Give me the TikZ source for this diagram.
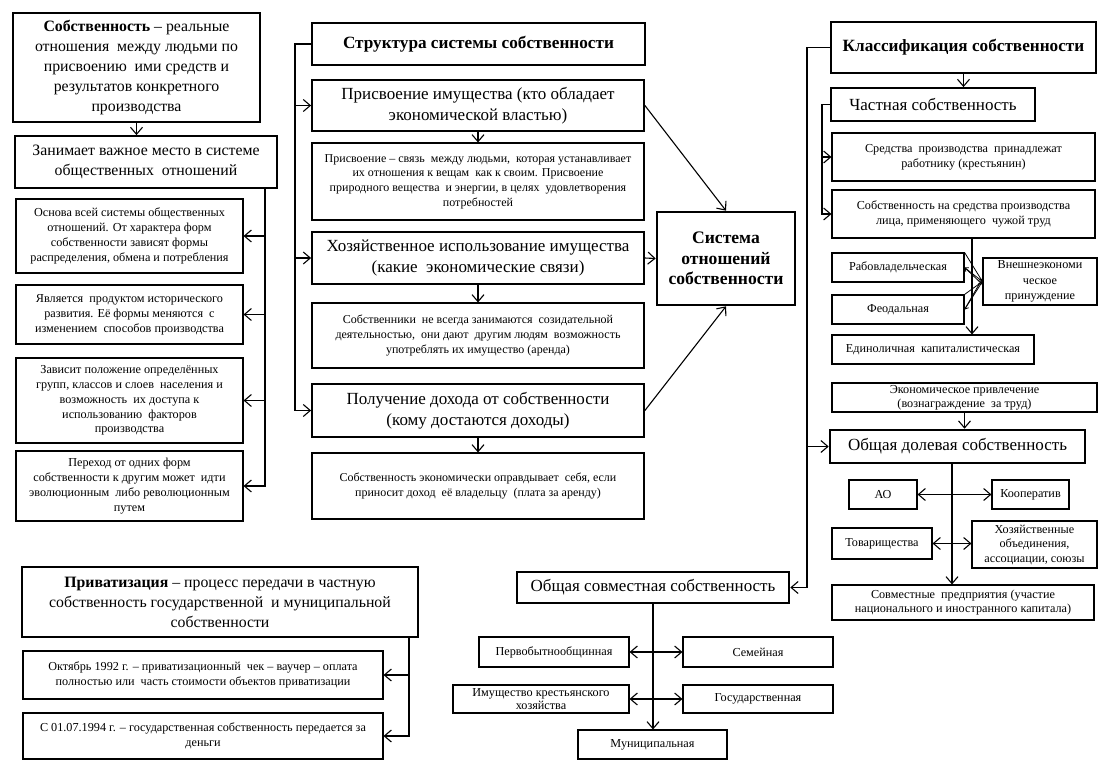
\documentclass[tikz,border=0pt]{standalone}
\usepackage{fontspec}
\setmainfont{Liberation Serif}
\usetikzlibrary{arrows.meta}
\begin{document}
\begin{tikzpicture}[x=1pt,y=-1pt]
\tikzset{
 base/.style={draw, align=center, inner sep=1pt, text=black},
 bthick/.style={base, line width=2.6pt},
 bmed/.style={base, line width=1.8pt},
 bthin/.style={base, line width=1.1pt},
 fbig/.style={font=\fontsize{17}{21}\selectfont},
 fmid/.style={font=\fontsize{15.8}{20}\selectfont},
 fsm/.style={font=\fontsize{12.2}{14.8}\selectfont},
 fxs/.style={font=\fontsize{12}{14.6}\selectfont},
 ftitle/.style={font=\fontsize{17.2}{20.5}\selectfont\bfseries},
 conn/.style={line width=1.1pt},
 arr/.style={conn, -{Straight Barb[length=7pt,width=12pt]}},
 darr/.style={conn, {Straight Barb[length=7pt,width=12pt]}-{Straight Barb[length=7pt,width=12pt]}},
 sarr/.style={line width=0.8pt, -{Straight Barb[length=3pt,width=5pt]}},
 sline/.style={line width=0.8pt},
}
\fill[white] (0,0) rectangle (1101,772);
\useasboundingbox (0,0) rectangle (1101,772);

% ---------- left column ----------
\node[bthick, fmid, minimum width=247pt, minimum height=109pt] (A) at (136.5,67.5)
 {\textbf{Собственность} – реальные\\ отношения\ \ между людьми по\\ присвоению\ \ ими средств и\\ результатов конкретного\\ производства};
\node[bmed, fmid, minimum width=262pt, minimum height=52pt] (B) at (146,162)
 {Занимает важное место в системе\\ общественных\ \ отношений};
\node[bthin, fsm, minimum width=227pt, minimum height=74pt] (C1) at (129.5,236)
 {Основа всей системы общественных\\ отношений. От характера форм\\ собственности зависят формы\\ распределения, обмена и потребления};
\node[bthin, fsm, minimum width=227pt, minimum height=59pt] (C2) at (129.5,314.5)
 {Является\ \ продуктом исторического\\ развития. Её формы меняются\ \ с\\ изменением\ \ способов производства};
\node[bthin, fsm, minimum width=227pt, minimum height=85pt] (C3) at (129.5,400.5)
 {Зависит положение определённых\\ групп, классов и слоев\ \ населения и\\ возможность\ \ их доступа к\\ использованию\ \ факторов\\ производства};
\node[bthin, fsm, minimum width=227pt, minimum height=70pt] (C4) at (129.5,486)
 {Переход от одних форм\\ собственности к другим может\ \ идти\\ эволюционным\ \ либо революционным\\ путем};

\draw[arr] (A.south) -- (A.south |- B.north);
\coordinate (lx) at (265,188);
\draw[arr] (lx) |- (C4.east);
\foreach \n in {C1,C2,C3} \draw[arr] (lx |- \n.east) -- (\n.east);

% ---------- middle column ----------
\node[bthick, ftitle, minimum width=333pt, minimum height=42pt] (S) at (478.5,44)
 {Структура системы собственности};
\node[bmed, fbig, minimum width=332pt, minimum height=51pt] (P1) at (478,105.5)
 {Присвоение имущества (кто обладает\\ экономической властью)};
\node[bthin, fxs, minimum width=332pt, minimum height=77pt] (P1d) at (478,181.5)
 {Присвоение – связь\ \ между людьми,\ \ которая устанавливает\\ их отношения к вещам\ \ как к своим. Присвоение\\ природного вещества\ \ и энергии, в целях\ \ удовлетворения\\ потребностей};
\node[bmed, fbig, minimum width=332pt, minimum height=52pt] (P2) at (478,258)
 {Хозяйственное использование имущества\\ (какие\ \ экономические связи)};
\node[bthin, fxs, minimum width=332pt, minimum height=65pt] (P2d) at (478,335.5)
 {Собственники\ \ не всегда занимаются\ \ созидательной\\ деятельностью,\ \ они дают\ \ другим людям\ \ возможность\\ употреблять их имущество (аренда)};
\node[bmed, fbig, minimum width=332pt, minimum height=53pt] (P3) at (478,410.5)
 {Получение дохода от собственности\\ (кому достаются доходы)};
\node[bthin, fxs, minimum width=332pt, minimum height=66pt] (P3d) at (478,486)
 {Собственность экономически оправдывает\ \ себя, если\\ приносит доход\ \ её владельцу\ \ (плата за аренду)};
\node[bthick, font=\fontsize{17.6}{20.5}\selectfont\bfseries, minimum width=138pt, minimum height=93pt] (Sys) at (726,258.5)
 {Система\\ отношений\\ собственности};

\coordinate (mx) at (295,44);
\draw[arr] (S.west) -- (mx) |- (P3.west);
\draw[arr] (mx |- P1.west) -- (P1.west);
\draw[arr] (mx |- P2.west) -- (P2.west);
\draw[arr] (P1.south) -- (P1d.north);
\draw[arr] (P2.south) -- (P2d.north);
\draw[arr] (P3.south) -- (P3d.north);
\draw[arr] (P1.east) -- (Sys.north);
\draw[arr] (P2.east) -- (Sys.west);
\draw[arr] (P3.east) -- (Sys.south);

% ---------- right column ----------
\node[bthick, ftitle, minimum width=265pt, minimum height=51pt] (K) at (963.5,47.5)
 {Классификация собственности};
\node[bmed, fbig, minimum width=204pt, minimum height=33pt] (Ch) at (933,104.5)
 {Частная собственность};
\node[bthin, fsm, minimum width=263pt, minimum height=48pt] (Ch1) at (963.5,157)
 {Средства\ \ производства\ \ принадлежат\\ работнику (крестьянин)};
\node[bthin, fsm, minimum width=263pt, minimum height=48pt] (Ch2) at (963.5,214)
 {Собственность на средства производства\\ лица, применяющего\ \ чужой труд};
\node[bthin, fsm, minimum width=132pt, minimum height=29pt] (Rab) at (898,267.5) {Рабовладельческая};
\node[bthin, fsm, minimum width=132pt, minimum height=29pt] (Feo) at (898,309.5) {Феодальная};
\node[bthin, font=\fontsize{12.2}{15.5}\selectfont, minimum width=114pt, minimum height=47pt] (Vne) at (1040,281.5)
 {Внешнеэкономи\\ ческое\\ принуждение};
\node[bthin, fsm, minimum width=202pt, minimum height=29pt] (Edi) at (933,349.5) {Единоличная\ \ капиталистическая};
\node[bthin, font=\fontsize{12.2}{14}\selectfont, minimum width=265pt, minimum height=29pt] (Eco) at (964.5,397.5)
 {Экономическое привлечение\\ (вознаграждение\ \ за труд)};
\node[bthick, fbig, minimum width=255pt, minimum height=33pt] (OD) at (957.5,446.5) {Общая долевая собственность};
\node[bthin, fsm, minimum width=68pt, minimum height=29pt] (AO) at (883,494.5) {АО};
\node[bthin, fsm, minimum width=77pt, minimum height=29pt] (Koop) at (1030.5,494.5) {Кооператив};
\node[bthin, fsm, minimum width=100pt, minimum height=31pt] (Tov) at (882,543.5) {Товарищества};
\node[bthin, font=\fontsize{12.2}{14.5}\selectfont, minimum width=125pt, minimum height=47pt] (Hoz) at (1034.5,544.5)
 {Хозяйственные\\ объединения,\\ ассоциации, союзы};
\node[bthin, fsm, minimum width=262pt, minimum height=35pt] (Sov) at (963,602.5)
 {Совместные\ \ предприятия (участие\\ национального и иностранного капитала)};

% ---------- bottom middle ----------
\node[bthick, fbig, minimum width=272pt, minimum height=31pt] (OSov) at (653,587.5) {Общая совместная собственность};
\node[bthin, fsm, minimum width=150pt, minimum height=30pt] (Perv) at (554,652) {Первобытнообщинная};
\node[bthin, fsm, minimum width=150pt, minimum height=30pt] (Sem) at (758,652) {Семейная};
\node[bthin, font=\fontsize{12.2}{13}\selectfont, minimum width=176pt, minimum height=28pt] (Imu) at (541,699)
 {Имущество крестьянского\\ хозяйства};
\node[bthin, fsm, minimum width=150pt, minimum height=28pt] (Gos) at (758,699) {Государственная};
\node[bthin, fsm, minimum width=149pt, minimum height=29pt] (Mun) at (652.5,744.5) {Муниципальная};

% right column connectors
\coordinate (rx) at (807,47.5);
\draw[arr] (K.west) -- (rx) |- (OSov.east);
\draw[arr] (rx |- OD.west) -- (OD.west);
\draw[arr] (K.south) -- (K.south |- Ch.north);
\coordinate (cx) at (822,104.5);
\draw[arr] (Ch.west) -- (cx) |- (Ch2.west);
\draw[arr] (cx |- Ch1.west) -- (Ch1.west);
\coordinate (vx) at (972,238);
\draw[arr] (vx) -- (vx |- Edi.north);
\draw[sline] (Vne.west) -- (Rab.north east);
\draw[sarr] (Vne.west) -- (Rab.east);
\draw[sline] (Vne.west) -- (Feo.north east);
\draw[sarr] (Vne.west) -- (Feo.east);
\draw[sarr] (Rab.east) -- ([yshift=-3pt]Vne.west);
\draw[sarr] (Feo.east) -- ([yshift=3pt]Vne.west);
\draw[arr] (Eco.south) -- (Eco.south |- OD.north);
\coordinate (dx) at (952,463);
\draw[arr] (dx) -- (dx |- Sov.north);
\draw[darr] (AO.east) -- (Koop.west);
\draw[darr] (Tov.east) -- (Tov.east -| Hoz.west);

% bottom middle connectors
\draw[arr] (OSov.south) -- (OSov.south |- Mun.north);
\draw[darr] (Perv.east) -- (Sem.west);
\draw[darr] (Imu.east) -- (Imu.east -| Gos.west);

% ---------- bottom left ----------
\node[bthick, fmid, minimum width=396pt, minimum height=70pt] (Priv) at (220,602)
 {\textbf{Приватизация} – процесс передачи в частную\\ собственность государственной\ \ и муниципальной\\ собственности};
\node[bthin, fsm, minimum width=360pt, minimum height=48pt] (Okt) at (203,675)
 {Октябрь 1992 г. – приватизационный\ \ чек – ваучер – оплата\\ полностью или\ \ часть стоимости объектов приватизации};
\node[bthin, fsm, minimum width=360pt, minimum height=46pt] (S01) at (203,736)
 {С 01.07.1994 г. – государственная собственность передается за\\ деньги};

\coordinate (px) at (409,637);
\draw[arr] (px) |- (S01.east);
\draw[arr] (px |- Okt.east) -- (Okt.east);
\end{tikzpicture}
\end{document}
